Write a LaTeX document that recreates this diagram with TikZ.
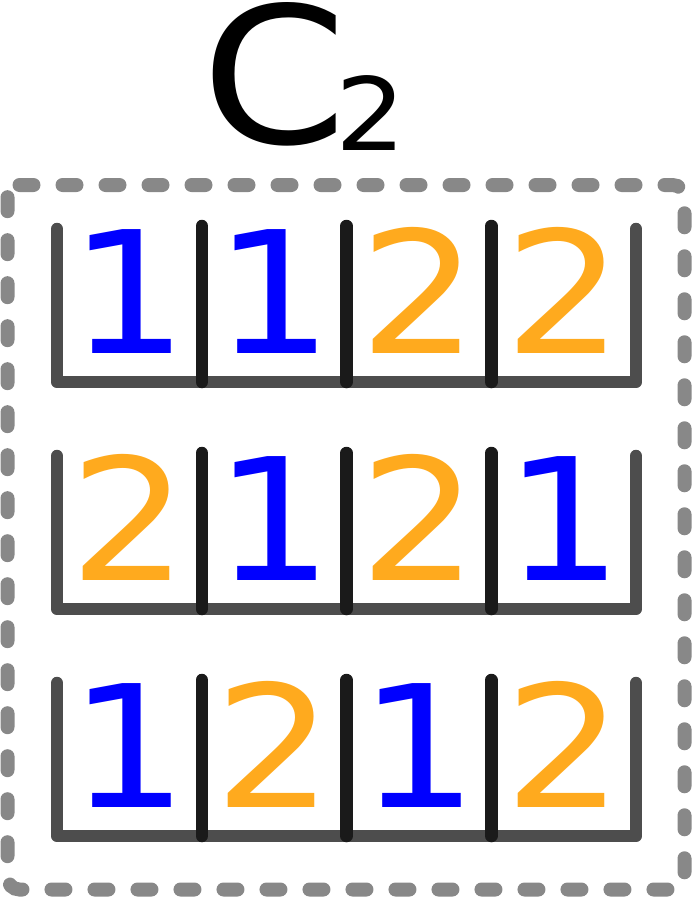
\documentclass[tikz,border=0pt]{standalone}
\usepackage{fontspec}
\setmainfont{DejaVu Sans}
\usepackage{graphicx}
\definecolor{dblue}{RGB}{0,0,255}
\definecolor{dorange}{RGB}{255,170,30}
\definecolor{frame}{RGB}{136,136,136}
\definecolor{bracket}{RGB}{77,77,77}
\definecolor{divider}{RGB}{26,26,26}
\begin{document}
\begin{tikzpicture}[x=1pt,y=-1pt,
  dig/.style={inner sep=0pt, anchor=base, font=\fontsize{170}{170}\selectfont},
  d1/.style={text=dblue},
  d2/.style={text=dorange},
  bracketline/.style={draw=bracket, line width=12.5pt, line cap=round, line join=round},
  dividerline/.style={draw=divider, line width=12.5pt, line cap=round},
  framebox/.style={draw=frame, line width=14pt, line cap=round, dash pattern=on 14pt off 29pt, rounded corners=12pt}]
\useasboundingbox (0,0) rectangle (692,897);
% title
\node[inner sep=0pt, anchor=base, font=\fontsize{190}{190}\selectfont] (title) at (303.5,143)
  {\scalebox{1.1}[1]{C\kern-11pt\raisebox{-7pt}{\fontsize{101}{101}\selectfont 2}}};
% frame
\draw[framebox] (7.5,185) -- (684.5,185) -- (684.5,889.5) -- (7.5,889.5) -- cycle;
% rows
\foreach \r in {0,1,2}{
  \pgfmathsetmacro{\top}{229+227*\r}
  \pgfmathsetmacro{\bot}{382+227*\r}
  \draw[bracketline] (57,\top) -- (57,\bot) -- (636,\bot) -- (636,\top);
  \foreach \k in {1,2,3}{
    \pgfmathsetmacro{\xx}{57+144.75*\k}
    \draw[dividerline] (\xx,\top-3) -- (\xx,\bot);
  }
}
% digits
\foreach \r/\c/\d in {0/0/1,0/1/1,0/2/2,0/3/2,
                      1/0/2,1/1/1,1/2/2,1/3/1,
                      2/0/1,2/1/2,2/2/1,2/3/2}{
  \pgfmathsetmacro{\xx}{57+144.75*(\c+0.5)}
  \pgfmathsetmacro{\yy}{353+227*\r}
  \node[dig, d\d] (n\r\c) at (\xx,\yy) {\scalebox{1.1}[1]{\d}};
}
\end{tikzpicture}
\end{document}
